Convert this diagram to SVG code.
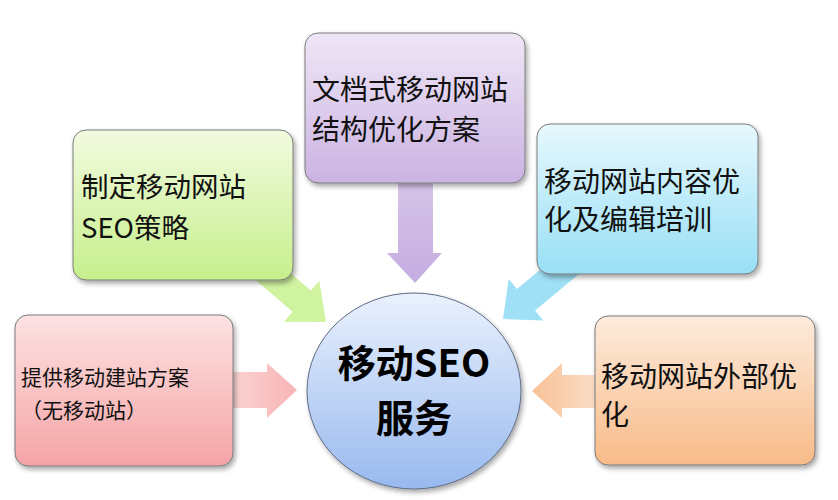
<svg xmlns="http://www.w3.org/2000/svg" width="838" height="500" viewBox="0 0 838 500">
<defs>
  <filter id="sh" x="-10%" y="-10%" width="125%" height="130%">
    <feDropShadow dx="2" dy="3" stdDeviation="2.5" flood-color="#000" flood-opacity="0.35"/>
  </filter>
  <linearGradient id="gPink" x1="0" y1="0" x2="0" y2="1">
    <stop offset="0" stop-color="#fde2e2"/><stop offset="1" stop-color="#f5a4a6"/>
  </linearGradient>
  <linearGradient id="gGreen" x1="0" y1="0" x2="0" y2="1">
    <stop offset="0" stop-color="#f2fbdf"/><stop offset="1" stop-color="#c6ef8c"/>
  </linearGradient>
  <linearGradient id="gPurple" x1="0" y1="0" x2="0" y2="1">
    <stop offset="0" stop-color="#efe6f6"/><stop offset="1" stop-color="#cbb3e3"/>
  </linearGradient>
  <linearGradient id="gBlue" x1="0" y1="0" x2="0" y2="1">
    <stop offset="0" stop-color="#e6f8fd"/><stop offset="1" stop-color="#98dff6"/>
  </linearGradient>
  <linearGradient id="gOrange" x1="0" y1="0" x2="0" y2="1">
    <stop offset="0" stop-color="#fdebdc"/><stop offset="1" stop-color="#f8bb88"/>
  </linearGradient>
  <linearGradient id="gCircle" x1="0" y1="0" x2="0" y2="1">
    <stop offset="0" stop-color="#eaf1fd"/><stop offset="1" stop-color="#98b9ef"/>
  </linearGradient>
  <linearGradient id="aPink" x1="0" y1="0" x2="1" y2="0">
    <stop offset="0" stop-color="#fcd6d6"/><stop offset="1" stop-color="#f8b4b5"/>
  </linearGradient>
  <linearGradient id="aOrange" x1="1" y1="0" x2="0" y2="0">
    <stop offset="0" stop-color="#fbe0cc"/><stop offset="1" stop-color="#f7c197"/>
  </linearGradient>
  <linearGradient id="aPurple" x1="0" y1="0" x2="0" y2="1">
    <stop offset="0" stop-color="#d8c6ea"/><stop offset="1" stop-color="#c4ace0"/>
  </linearGradient>
</defs>
<style>
  .box { stroke: #7a7a7a; stroke-width: 1; filter: url(#sh); }
  .lbl { font-family: "Noto Sans CJK SC", "Noto Sans", sans-serif; fill: #111; }
  .ctr { font-family: "Noto Sans CJK SC", "Noto Sans", sans-serif; fill: #000; font-weight: bold; font-size: 38px; text-anchor: middle; }
  .arr { stroke: none; }
</style>
<rect width="838" height="500" fill="#ffffff"/>

<g id="connectors">
  <polygon class="arr" fill="url(#aPink)" points="225,372 267,372 267,363 297,390 267,418 267,408 225,408"/>
  <polygon class="arr" fill="#cff39f" points="247,272.6 292.6,311.8 284,321.7 326,322 319.3,280.7 310.8,290.6 265,251"/>
  <polygon class="arr" fill="url(#aPurple)" points="398,175 433,175 433,253 442,253 415,283 387,253 398,253"/>
  <polygon class="arr" fill="#9fe0f6" points="589,265.8 535,310.6 543.3,320.6 503,319 508.7,279 517,289 571,244"/>
  <polygon class="arr" fill="url(#aOrange)" points="605,375 562,375 562,363 532,391 562,418 562,408 605,408"/>
</g>

<g id="node-pink">
  <rect class="box" x="15" y="315" width="218" height="151" rx="13" fill="url(#gPink)"/>
  <text class="lbl" font-size="21" x="21" y="385">提供移动建站方案</text>
  <text class="lbl" font-size="21" x="21" y="418">（无移动站）</text>
</g>

<g id="node-green">
  <rect class="box" x="73" y="130" width="220" height="150" rx="13" fill="url(#gGreen)"/>
  <text class="lbl" font-size="27.5" x="81" y="197">制定移动网站</text>
  <text class="lbl" font-size="27.5" x="81" y="238">SEO策略</text>
</g>

<g id="node-purple">
  <rect class="box" x="305" y="33" width="220" height="150" rx="13" fill="url(#gPurple)"/>
  <text class="lbl" font-size="28" x="312" y="100">文档式移动网站</text>
  <text class="lbl" font-size="28" x="312" y="140">结构优化方案</text>
</g>

<g id="node-blue">
  <rect class="box" x="537" y="124" width="221" height="150" rx="13" fill="url(#gBlue)"/>
  <text class="lbl" font-size="28" x="544" y="192">移动网站内容优</text>
  <text class="lbl" font-size="28" x="544" y="230">化及编辑培训</text>
</g>

<g id="node-orange">
  <rect class="box" x="595" y="316" width="220" height="149" rx="13" fill="url(#gOrange)"/>
  <text class="lbl" font-size="28" x="601" y="387">移动网站外部优</text>
  <text class="lbl" font-size="28" x="601" y="425">化</text>
</g>

<g id="node-center">
  <ellipse cx="414" cy="391" rx="107" ry="98" fill="url(#gCircle)" stroke="#5d6b86" stroke-width="1" filter="url(#sh)"/>
  <text class="ctr" x="414" y="377">移动SEO</text>
  <text class="ctr" x="414" y="432">服务</text>
</g>
</svg>
